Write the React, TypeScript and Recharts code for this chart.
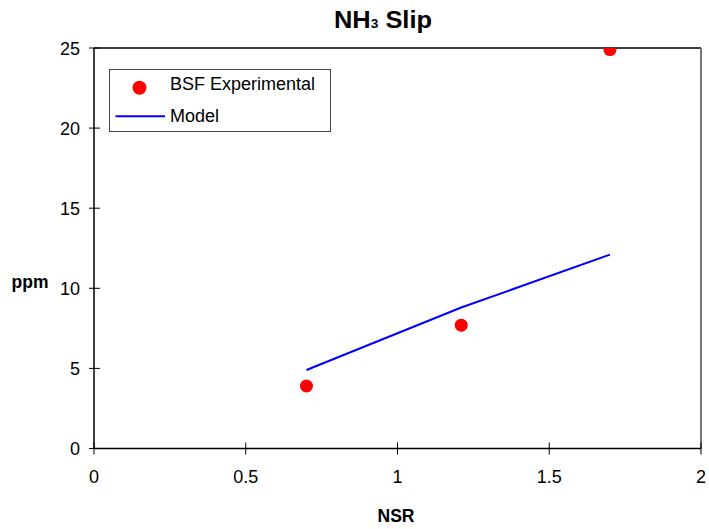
import React from 'react';
import { ComposedChart, Scatter, Line, XAxis, YAxis, ReferenceLine } from 'recharts';

const expNSR = [0.7, 1.21, 1.7];
const expPPM = [3.9, 7.7, 24.9];
const modelNSR = [0.7, 1.21, 1.7];
const modelPPM = [4.9, 8.8, 12.1];
const xTicks = [0, 0.5, 1, 1.5, 2];
const yTicks = [0, 5, 10, 15, 20, 25];
const seriesNames = ['BSF Experimental', 'Model'];

const expData = expNSR.map((x, i) => ({ x, y: expPPM[i] }));
const modelData = modelNSR.map((x, i) => ({ x, y: modelPPM[i] }));

const FONT = '"Liberation Sans", Arial, sans-serif';

const XTick = (props: any) => {
  const { x, y, payload } = props;
  return (
    <g>
      <line x1={x} x2={x} y1={y - 6} y2={y + 6} stroke="#000" strokeWidth={1} />
      <text x={x} y={y + 34.5} textAnchor="middle" fontSize={18} fontFamily={FONT} fill="#000">
        {String(payload.value)}
      </text>
    </g>
  );
};

const YTick = (props: any) => {
  const { x, y, payload } = props;
  return (
    <g>
      <line x1={x - 5} x2={x + 6} y1={y} y2={y} stroke="#000" strokeWidth={1} />
      <text x={x - 14} y={y + 6.5} textAnchor="end" fontSize={18} fontFamily={FONT} fill="#000">
        {String(payload.value)}
      </text>
    </g>
  );
};

const LegendBox = () => (
  <div
    style={{
      position: 'absolute',
      left: 109,
      top: 69,
      width: 222,
      height: 63,
      border: '1px solid #444',
      boxSizing: 'border-box',
      background: '#fff',
    }}
  >
    <svg width={222} height={63} style={{ position: 'absolute', left: -1, top: -1 }}>
      <circle cx={30.5} cy={18.7} r={7} fill="#ff0000" />
      <line x1={6.5} x2={56} y1={47.3} y2={47.3} stroke="#0000ff" strokeWidth={2} />
      <text x={61} y={21} fontSize={18} fontFamily={FONT} fill="#000">{seriesNames[0]}</text>
      <text x={61} y={52.7} fontSize={18} fontFamily={FONT} fill="#000">{seriesNames[1]}</text>
    </svg>
  </div>
);

export default function App() {
  return (
    <div style={{ position: 'absolute', left: 0, top: 0, width: 709, height: 529, background: '#fff' }}>
      <ComposedChart
        width={709}
        height={529}
        margin={{ top: 48, right: 8, left: 0, bottom: 50 }}
        style={{ background: '#fff' }}
      >
        <XAxis
          type="number"
          dataKey="x"
          domain={[0, 2]}
          ticks={xTicks}
          height={30.5}
          tickSize={0}
          tickMargin={0}
          tick={<XTick />}
          axisLine={{ stroke: '#000', strokeWidth: 1.5 }}
          allowDataOverflow
        />
        <YAxis
          type="number"
          dataKey="y"
          domain={[0, 25]}
          ticks={yTicks}
          width={94}
          tickSize={0}
          tickMargin={0}
          tick={<YTick />}
          axisLine={{ stroke: '#000', strokeWidth: 1.5 }}
          allowDataOverflow
        />
        <ReferenceLine y={25} stroke="#000" strokeWidth={1.5} />
        <ReferenceLine x={2} stroke="#777" strokeWidth={2} />
        <Line
          data={modelData}
          dataKey="y"
          name={seriesNames[1]}
          type="linear"
          stroke="#0000ff"
          strokeWidth={2}
          dot={false}
          activeDot={false}
          isAnimationActive={false}
        />
        <Scatter
          data={expData}
          dataKey="y"
          name={seriesNames[0]}
          fill="#ff0000"
          isAnimationActive={false}
          shape={(p: any) => <circle cx={p.cx} cy={p.cy} r={6.5} fill="#ff0000" />}
        />
        <text
          x={383}
          y={28}
          textAnchor="middle"
          fontFamily={FONT}
          fontWeight="bold"
          fontSize={24}
          fill="#000"
          textLength={98}
          lengthAdjust="spacingAndGlyphs"
        >
          NH<tspan fontSize={13}>3</tspan> Slip
        </text>
        <text x={11.5} y={288} fontFamily={FONT} fontWeight="bold" fontSize={17.5} fill="#000">ppm</text>
        <text x={396} y={522} textAnchor="middle" fontFamily={FONT} fontWeight="bold" fontSize={17.5} fill="#000">NSR</text>
      </ComposedChart>
      <LegendBox />
    </div>
  );
}
